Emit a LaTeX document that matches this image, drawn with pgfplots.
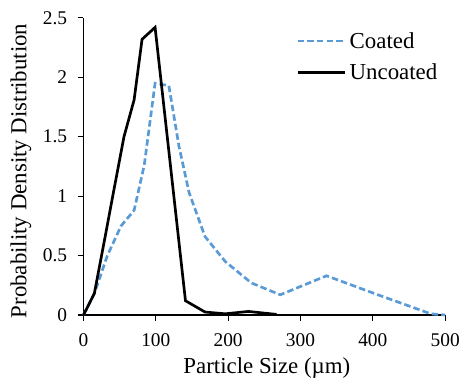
\documentclass[border=0pt]{standalone}
\usepackage{pgfplots}
\pgfplotsset{compat=1.18}
\usepackage{fontspec}
\setmainfont{Liberation Serif}
\definecolor{coated}{HTML}{5B9BD5}
\begin{document}
\begin{tikzpicture}
\begin{axis}[
  scale only axis,
  width=364bp, height=299bp,
  xmin=0, xmax=500, ymin=0, ymax=2.5,
  axis lines=left,
  axis line style={-, line width=1.8bp},
  xtick={0,100,...,500},
  ytick={0,0.5,...,2.5},
  yticklabels={0,0.5,1,1.5,2,2.5},
  tick align=outside,
  major tick length=6bp,
  tick style={line width=1.2bp, black},
  /pgf/number format/assume math mode=true,
  ticklabel style={font=\fontsize{19.5bp}{22bp}\selectfont},
  yticklabel style={xshift=-7bp},
  xticklabel style={yshift=-9bp},
  xlabel={Particle Size (µm)},
  ylabel={Probability Density Distribution},
  label style={font=\fontsize{23bp}{26bp}\selectfont},
  xlabel style={at={(axis description cs:0.507,-0.177)}, anchor=center},
  ylabel style={at={(axis description cs:-0.173,0.485)}, anchor=center},
  legend style={at={(axis description cs:0.588,0.952)}, anchor=north west,
    draw=none, fill=none, font=\fontsize{23bp}{26bp}\selectfont,
    row sep=14bp, inner sep=0pt, nodes={inner xsep=3bp, inner ysep=0pt}},
  legend cell align=left,
  legend image code/.code={\draw[#1] (0bp,0bp) -- (48bp,0bp);},
  clip=false,
]
\addplot[coated, line width=2.7bp, dash pattern=on 6.5bp off 3.2bp] coordinates {
(0,0) (15,0.18) (33,0.50) (52,0.75) (70,0.88) (84,1.26) (99,1.95) (118,1.93)
(132,1.42) (146,1.03) (168,0.66) (196,0.45) (232,0.27) (272,0.17) (336,0.33)
(407,0.17) (480,0.01) (500,0)};
\addlegendentry{Coated}
\addplot[black, line width=2.7bp] coordinates {
(0,0) (15,0.18) (30,0.66) (42,1.05) (56,1.50) (70,1.81) (81,2.32) (99,2.42)
(141,0.12) (168,0.025) (196,0.01) (228,0.03) (251,0.015) (267,0.005)};
\addlegendentry{Uncoated}
\end{axis}
\path[use as bounding box] (-84bp,-66bp) rectangle (379bp,317bp);
\end{tikzpicture}
\end{document}
